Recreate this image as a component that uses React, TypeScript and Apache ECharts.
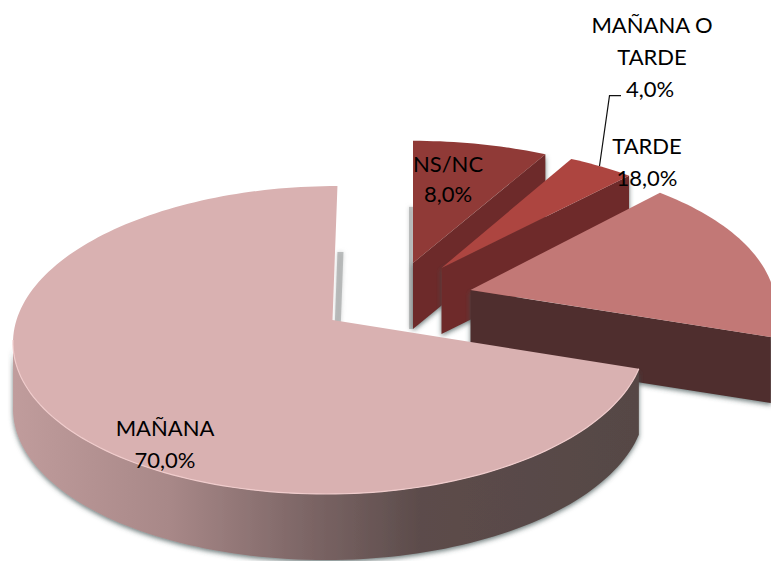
import React, { useEffect, useRef } from "react";
import * as echarts from "echarts";

// Data, in clockwise order from twelve o'clock
const categories = ["NS/NC", "MAÑANA O TARDE", "TARDE", "MAÑANA"];
const shareValues = [8, 4, 18, 70];

// Label layout
const labelLines: string[][] = [["NS/NC"], ["MAÑANA O", "TARDE"], ["TARDE"], ["MAÑANA"]];
const labelCentreX = [448, 652, 647, 165];
const labelFirstBaseline = [174, 35, 156, 438];
const labelLineStep = [30, 32, 32, 32];

// Pseudo-3D geometry per slice (screen pixels): position of the tip and size of the projected disc
const sliceGeometry = [
  { ax: 413, ay: 263, rxR: 310, rxL: 310, ry: 140, k: 0.146, skew: 0, top: "#903a37", wall: "#6d2b29", strip: -4 },
  { ax: 441.5, ay: 268, rxR: 300, rxL: 300, ry: 138.6, k: 0.13, skew: 0, top: "#ad4540", wall: "#6e2c2a", strip: 0 },
  { ax: 470.5, ay: 290, rxR: 303, rxL: 303, ry: 146, k: 0.13, skew: 0, top: "#c27876", wall: "#4f2f2e", strip: 0 },
  { ax: 332.5, ay: 320, rxR: 311, rxL: 316, ry: 151.4, k: 0.13, skew: 5.6, top: "#d9b1b1", wall: "", strip: 6 },
];
const WALL_HEIGHT = 66;
const TOTAL = shareValues.reduce((a, b) => a + b, 0);

function startDeg(i: number) {
  return (shareValues.slice(0, i).reduce((a, b) => a + b, 0) / TOTAL) * 360;
}

function project(g: any, deg: number, r = 1): number[] {
  const t = (deg * Math.PI) / 180;
  const u = Math.sin(t) * r;
  const v = Math.cos(t) * r;
  const d = 1 + g.k * v;
  const rx = u < 0 ? g.rxL : g.rxR;
  return [g.ax + (rx * u + g.skew * v) / d, g.ay - (g.ry * v) / d];
}

function arc(g: any, a: number, b: number): number[][] {
  const out: number[][] = [];
  const n = Math.max(2, Math.ceil((b - a) / 1.5));
  for (let i = 0; i <= n; i++) out.push(project(g, a + ((b - a) * i) / n));
  return out;
}

const down = (p: number[]) => [p[0], p[1] + WALL_HEIGHT];

const renderSlice = (params: any, api: any) => {
  const i = params.dataIndex;
  const value = api.value(0);
  const g = sliceGeometry[i];
  const a0 = startDeg(i);
  const a1 = a0 + (value / TOTAL) * 360;
  const apex = [g.ax, g.ay];
  const children: any[] = [];
  const shadow = { shadowBlur: 5, shadowOffsetY: 2, shadowColor: "rgba(60,80,80,0.75)" };

  if (g.strip) {
    const t = down(project(g, 0));
    const b = down(apex);
    children.push({
      type: "polygon",
      shape: { points: [t, [t[0] + g.strip, t[1]], [b[0] + g.strip, b[1]], b] },
      style: { fill: "rgba(165,168,168,0.7)", shadowBlur: 4, shadowColor: "rgba(165,168,168,0.7)" },
    });
  }

  // outer wall, only where it faces the viewer
  const lo = Math.max(a0, 97.5);
  const hi = Math.min(a1, 262.5);
  if (hi > lo) {
    const edge = arc(g, lo, hi);
    const fill = g.wall
      ? g.wall
      : new echarts.graphic.LinearGradient(0, 0, 1, 0, [
          { offset: 0, color: "#c09c9c" },
          { offset: 0.25, color: "#a88888" },
          { offset: 0.46, color: "#7e6767" },
          { offset: 0.65, color: "#5c4c4b" },
          { offset: 1, color: "#564745" },
        ]);
    children.push({
      type: "polygon",
      shape: { points: [...edge, ...edge.slice().reverse().map(down)] },
      style: { fill, ...shadow },
    });
  }

  // cut face of the wedge, at its clockwise end
  if (a1 < 180) {
    const o = project(g, a1);
    children.push({
      type: "polygon",
      shape: { points: [apex, o, down(o), down(apex)] },
      style: { fill: g.wall, ...shadow },
    });
  }

  // top face
  children.push({
    type: "polygon",
    shape: { points: [apex, ...arc(g, a0, a1)] },
    style: { fill: g.top },
  });

  // bright rim along the front of the big slice
  if (hi > lo && !g.wall) {
    children.push({
      type: "polyline",
      shape: { points: arc(g, lo, hi) },
      style: { stroke: "#f0cccc", lineWidth: 1.2, fill: "none" },
    });
  }
  return { type: "group", children };
};

const renderLabel = (params: any, api: any) => {
  const i = params.dataIndex;
  const value = api.value(0);
  const lines = [...labelLines[i], value.toFixed(1).replace(".", ",") + "%"];
  const children: any[] = lines.map((text, n) => ({
    type: "text",
    style: {
      text,
      x: labelCentreX[i] - (n === lines.length - 1 && i === 1 ? 2 : 0),
      y: labelFirstBaseline[i] + n * labelLineStep[i],
      align: "center",
      verticalAlign: "bottom",
      fill: "#000",
      font: '22px Lato, "Open Sans", sans-serif',
    },
  }));
  return { type: "group", children };
};

export default function App() {
  const ref = useRef<HTMLDivElement>(null);
  useEffect(() => {
    document.body.style.margin = "0";
    const chart = echarts.init(ref.current!, undefined, { renderer: "svg" });
    const data = shareValues.map((v, i) => ({ name: categories[i], value: [v] }));
    chart.setOption({
      animation: false,
      backgroundColor: "#ffffff",
      series: [
        { type: "custom", coordinateSystem: "none", renderItem: renderSlice, data, z: 2, silent: true, clip: false },
        { type: "custom", coordinateSystem: "none", renderItem: renderLabel, data, z: 5, silent: true },
      ],
      graphic: [
        {
          type: "polyline",
          z: 6,
          shape: { points: [[621, 95.7], [609.5, 95.7], [599.5, 166]] },
          style: { stroke: "#111", lineWidth: 1.2, fill: "none" },
        },
      ],
    });
    return () => chart.dispose();
  }, []);
  return <div ref={ref} style={{ width: 771, height: 561 }} />;
}
